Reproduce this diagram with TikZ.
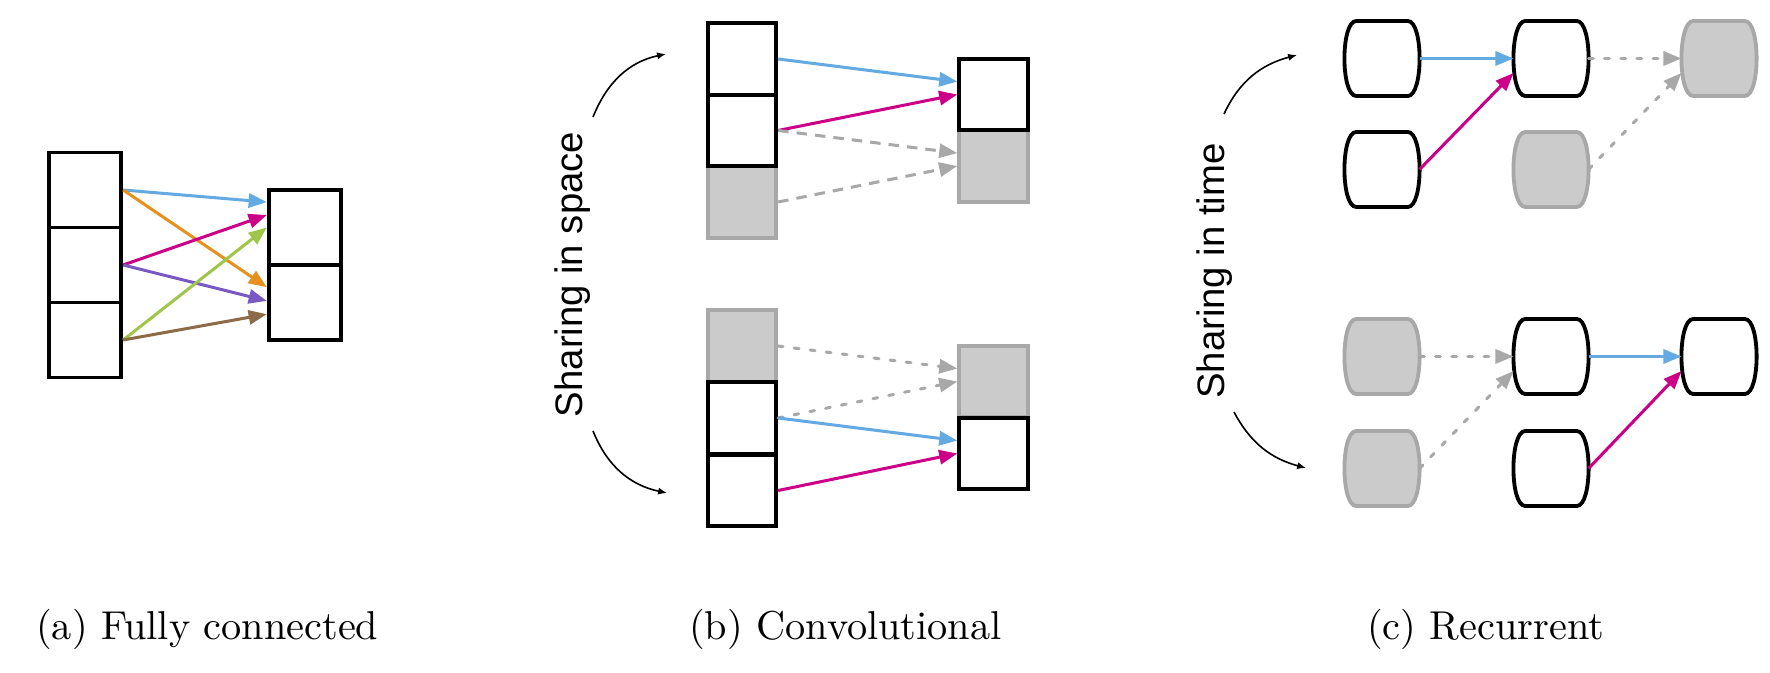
\documentclass[tikz,border=0pt]{standalone}
\usepackage{fontspec}
\newfontfamily\labelfont{Liberation Sans}
\usepackage{tikz}
\usetikzlibrary{arrows.meta}

\definecolor{wblue}{RGB}{99,170,226}
\definecolor{wmagenta}{RGB}{204,0,136}
\definecolor{worange}{RGB}{230,145,30}
\definecolor{wpurple}{RGB}{122,88,196}
\definecolor{wgreen}{RGB}{158,198,74}
\definecolor{wbrown}{RGB}{141,107,72}
\definecolor{gfill}{RGB}{203,203,203}
\definecolor{gline}{RGB}{168,168,168}

% outline of a recurrent unit, drawn round the node #1
\newcommand\barrel[2]{%
    \draw[#2] ([xshift=2.9pt]#1.north west) -- ([xshift=-2.9pt]#1.north east)
        .. controls ([xshift=1pt]#1.north east) and ([xshift=1pt]#1.south east)
        .. ([xshift=-2.9pt]#1.south east)
        -- ([xshift=2.9pt]#1.south west)
        .. controls ([xshift=-1pt]#1.south west) and ([xshift=-1pt]#1.north west)
        .. cycle;}

\tikzset{
    cell/.style={draw=black, line width=0.95pt, fill=white, inner sep=0pt,
        minimum width=17pt, minimum height=17.7pt},
    bigcell/.style={cell, minimum width=18pt, minimum height=18.6pt},
    padcell/.style={cell, draw=gline, fill=gfill},
    unit/.style={inner sep=0pt, minimum width=18.2pt, minimum height=18.2pt},
    unitline/.style={draw=black, fill=white, line width=0.95pt},
    padline/.style={draw=gline, fill=gfill, line width=0.95pt},
    wire/.style={line width=0.75pt, -{Triangle[length=4.5pt, width=3.5pt]}},
    gwire/.style={wire, draw=gline, dash pattern=on 2.6pt off 2pt},
    gdots/.style={wire, draw=gline, line cap=round, dash pattern=on 1.2pt off 2.8pt},
    sweep/.style={line width=0.4pt, -{Latex[length=2.2pt, width=1.8pt]}},
    sidelab/.style={rotate=90, font=\labelfont\fontsize{9.5}{11}\selectfont},
    caption/.style={anchor=base west, font=\fontsize{10}{12}\selectfont}
}

\begin{document}
\begin{tikzpicture}[x=0.2481pt, y=0.2481pt]
    \useasboundingbox (0,0) rectangle (1770,673);

    % (a) fully connected
    \node[bigcell] (fin1) at (85,483) {};
    \node[bigcell] (fin2) at (85,408) {};
    \node[bigcell] (fin3) at (85,333) {};
    \node[bigcell] (fout1) at (305,445.5) {};
    \node[bigcell] (fout2) at (305,370.5) {};
    \draw[wire, wblue] (fin1.east) -- ([yshift=6.3pt]fout1.west);
    \draw[wire, worange] (fin1.east) -- ([yshift=3.8pt]fout2.west);
    \draw[wire, wmagenta] (fin2.east) -- ([yshift=3.1pt]fout1.west);
    \draw[wire, wpurple] (fin2.east) -- ([yshift=0.4pt]fout2.west);
    \draw[wire, wgreen] (fin3.east) -- (fout1.west);
    \draw[wire, wbrown] (fin3.east) -- ([yshift=-2.9pt]fout2.west);

    % (b) convolutional, top
    \node[padcell] (tin3) at (742,471) {};
    \node[padcell] (tout2) at (993.5,507) {};
    \node[cell] (tin1) at (742,614) {};
    \node[cell] (tin2) at (742,542.5) {};
    \node[cell] (tout1) at (993.5,578.5) {};
    \draw[wire, wblue] (tin1.east) -- ([yshift=3.2pt]tout1.west);
    \draw[wire, wmagenta] (tin2.east) -- (tout1.west);
    \draw[gwire] (tin2.east) -- ([yshift=3.2pt]tout2.west);
    \draw[gwire] (tin3.east) -- (tout2.west);

    % (b) convolutional, bottom
    \node[padcell] (bin1) at (742,327) {};
    \node[padcell] (bout1) at (993.5,291.5) {};
    \node[cell] (bin2) at (742,255) {};
    \node[cell] (bin3) at (742,182.5) {};
    \node[cell] (bout2) at (993.5,219.5) {};
    \draw[gdots] (bin1.east) -- ([yshift=3.2pt]bout1.west);
    \draw[gdots] (bin2.east) -- (bout1.west);
    \draw[wire, wblue] (bin2.east) -- ([yshift=3.2pt]bout2.west);
    \draw[wire, wmagenta] (bin3.east) -- (bout2.west);

    \node[sidelab] (spacelab) at (573,398.5) {Sharing in space};
    \coordinate (sp1) at (593,556);
    \coordinate (sp2) at (666,619);
    \coordinate (sp3) at (593,242);
    \coordinate (sp4) at (667,180);
    \draw[sweep] (sp1) to[out=68, in=192] (sp2);
    \draw[sweep] (sp3) to[out=-68, in=168] (sp4);

    % (c) recurrent, top
    \node[unit] (ru1) at (1382,614.5) {};
    \node[unit] (ru2) at (1551,614.5) {};
    \node[unit] (ru3) at (1719,614.5) {};
    \node[unit] (rl1) at (1382,503.5) {};
    \node[unit] (rl2) at (1551,503.5) {};
    \barrel{ru1}{unitline}
    \barrel{ru2}{unitline}
    \barrel{ru3}{padline}
    \barrel{rl1}{unitline}
    \barrel{rl2}{padline}
    \draw[wire, wblue] (ru1.east) -- (ru2.west);
    \draw[wire, wmagenta] (rl1.east) -- ([yshift=-3.6pt]ru2.west);
    \draw[gdots] (ru2.east) -- (ru3.west);
    \draw[gdots] (rl2.east) -- ([yshift=-3.6pt]ru3.west);

    % (c) recurrent, bottom
    \node[unit] (su1) at (1382,316.5) {};
    \node[unit] (su2) at (1551,316.5) {};
    \node[unit] (su3) at (1719,316.5) {};
    \node[unit] (sl1) at (1382,204.5) {};
    \node[unit] (sl2) at (1551,204.5) {};
    \barrel{su1}{padline}
    \barrel{su2}{unitline}
    \barrel{su3}{unitline}
    \barrel{sl1}{padline}
    \barrel{sl2}{unitline}
    \draw[gdots] (su1.east) -- (su2.west);
    \draw[gdots] (sl1.east) -- ([yshift=-3.6pt]su2.west);
    \draw[wire, wblue] (su2.east) -- (su3.west);
    \draw[wire, wmagenta] (sl2.east) -- ([yshift=-3.6pt]su3.west);

    \node[sidelab] (timelab) at (1215,402) {Sharing in time};
    \coordinate (tm1) at (1224,559);
    \coordinate (tm2) at (1297,618);
    \coordinate (tm3) at (1234,261);
    \coordinate (tm4) at (1306,205);
    \draw[sweep] (tm1) to[out=65, in=195] (tm2);
    \draw[sweep] (tm3) to[out=-62, in=165] (tm4);

    % captions
    \node[caption] (capa) at (22,33) {(a) Fully connected};
    \node[caption] (capb) at (675,33) {(b) Convolutional};
    \node[caption] (capc) at (1353,33) {(c) Recurrent};
\end{tikzpicture}
\end{document}
